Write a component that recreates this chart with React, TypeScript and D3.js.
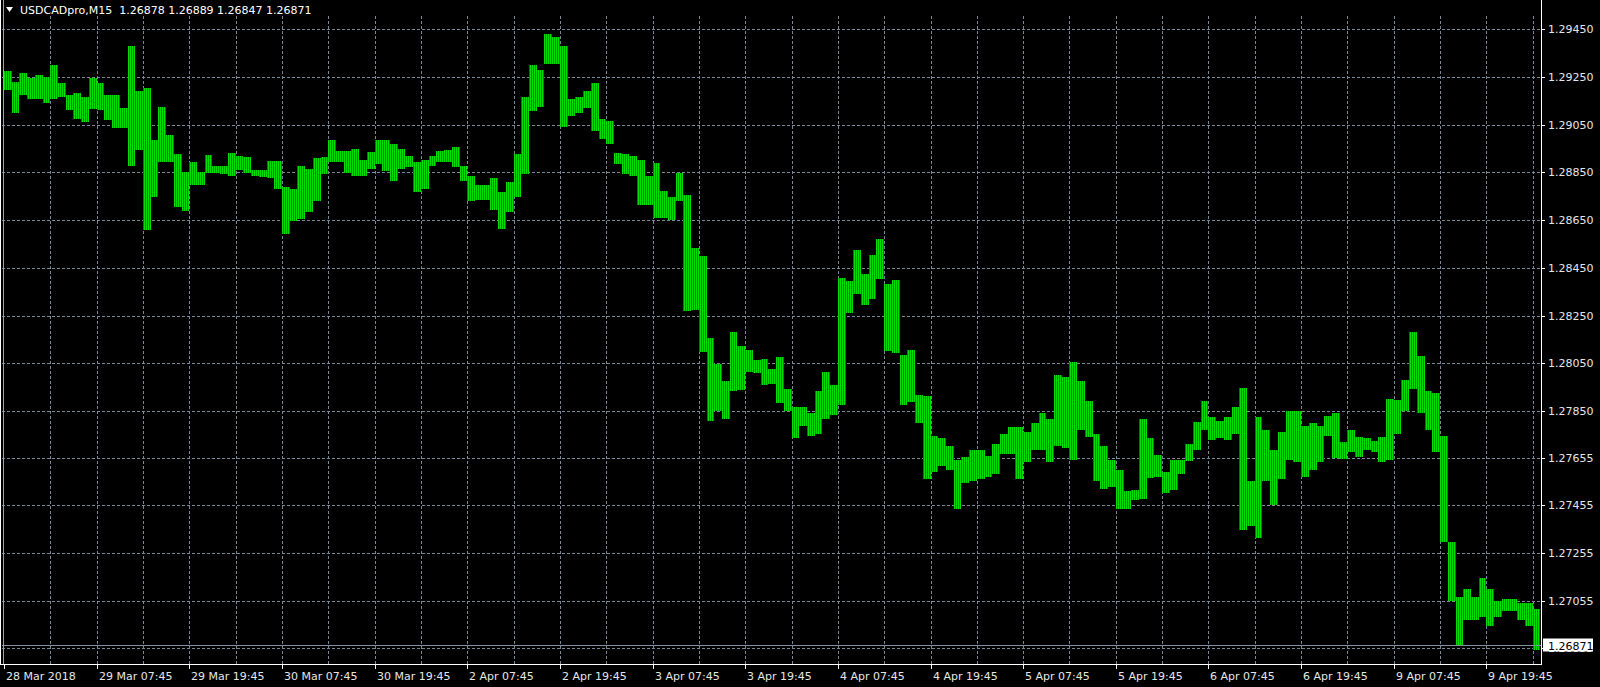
import React from 'react';
import * as d3 from 'd3';

// hourly high / low (4 bars per entry)
const highs = [
  1.29275, 1.29231, 1.29265, 1.29245, 1.29258, 1.29248,
  1.29299, 1.29227, 1.29176, 1.29185, 1.29168, 1.29245,
  1.29227, 1.29176, 1.29173, 1.29121, 1.29378, 1.29193,
  1.29202, 1.28988, 1.29125, 1.29005, 1.28928, 1.28851,
  1.28894, 1.28851, 1.28923, 1.28876, 1.28876, 1.28933,
  1.28919, 1.28916, 1.28859, 1.28859, 1.28899, 1.28899,
  1.28791, 1.28782, 1.28876, 1.28864, 1.28911, 1.28916,
  1.28984, 1.2894, 1.2894, 1.2895, 1.28902, 1.28936,
  1.28988, 1.28988, 1.28971, 1.2895, 1.28919, 1.28894,
  1.28902, 1.28919, 1.2894, 1.28945, 1.28957, 1.28876,
  1.28834, 1.28799, 1.28799, 1.28825, 1.28769, 1.28808,
  1.28928, 1.29168, 1.29299, 1.29279, 1.29429, 1.29419,
  1.29381, 1.29159, 1.29168, 1.2919, 1.29224, 1.29073,
  1.29065, 1.28933, 1.28928, 1.28919, 1.28902, 1.28834,
  1.28888, 1.28774, 1.28748, 1.28847, 1.28757, 1.28534,
  1.285, 1.28157, 1.28049, 1.27974, 1.28183, 1.28123,
  1.28106, 1.28063, 1.28066, 1.28025, 1.28077, 1.27943,
  1.27866, 1.27866, 1.27843, 1.27935, 1.28015, 1.2796,
  1.28406, 1.28397, 1.28525, 1.28423, 1.28503, 1.28573,
  1.28384, 1.28401, 1.28084, 1.28106, 1.27918, 1.27912,
  1.27747, 1.27738, 1.27704, 1.27644, 1.27656, 1.27687,
  1.27687, 1.27661, 1.27712, 1.27755, 1.27781, 1.27781,
  1.27764, 1.27798, 1.27841, 1.27815, 1.28003, 1.27994,
  1.28054, 1.27974, 1.27892, 1.27752, 1.27704, 1.27644,
  1.27601, 1.27515, 1.27519, 1.27815, 1.27738, 1.27666,
  1.27593, 1.27644, 1.27644, 1.27712, 1.27803, 1.27892,
  1.27824, 1.2781, 1.27827, 1.27866, 1.27947, 1.27558,
  1.27827, 1.27772, 1.27687, 1.27764, 1.27849, 1.27849,
  1.27789, 1.27798, 1.27789, 1.27831, 1.27843, 1.27721,
  1.27772, 1.27741, 1.27738, 1.27724, 1.27741, 1.279,
  1.27895, 1.27978, 1.2818, 1.2808, 1.27935, 1.27926,
  1.27747, 1.27302, 1.2707, 1.27105, 1.2707, 1.27152,
  1.27105, 1.27055, 1.27061, 1.27061, 1.27044, 1.27044,
  1.27019,
];

const lows = [
  1.29197, 1.29099, 1.29176, 1.29159, 1.29159, 1.29142,
  1.29159, 1.29168, 1.29111, 1.29073, 1.2906, 1.29116,
  1.29111, 1.2907, 1.29036, 1.29036, 1.28876, 1.28945,
  1.28608, 1.28748, 1.28894, 1.28894, 1.28705, 1.28688,
  1.28799, 1.28796, 1.28847, 1.28847, 1.28842, 1.28837,
  1.28859, 1.28847, 1.28837, 1.2883, 1.28825, 1.28782,
  1.28594, 1.28645, 1.28654, 1.28683, 1.28731, 1.28842,
  1.28894, 1.28894, 1.28847, 1.28834, 1.28837, 1.28864,
  1.28885, 1.28854, 1.28816, 1.28864, 1.28871, 1.28769,
  1.28779, 1.28876, 1.28894, 1.28894, 1.28871, 1.28813,
  1.28731, 1.28735, 1.28735, 1.28693, 1.28611, 1.28683,
  1.28748, 1.28842, 1.29108, 1.29125, 1.29304, 1.29304,
  1.29039, 1.29087, 1.29099, 1.29121, 1.29025, 1.28991,
  1.28971, 1.28885, 1.28842, 1.28837, 1.28714, 1.28714,
  1.28659, 1.28659, 1.28649, 1.28731, 1.28269, 1.28272,
  1.28098, 1.27807, 1.27849, 1.27815, 1.27935, 1.2794,
  1.28012, 1.28008, 1.27957, 1.27964, 1.27883, 1.27849,
  1.27738, 1.27789, 1.27746, 1.27755, 1.27815, 1.27832,
  1.27875, 1.28262, 1.2834, 1.28295, 1.2832, 1.28402,
  1.28101, 1.28093, 1.27875, 1.27889, 1.27798, 1.27567,
  1.27593, 1.27618, 1.27601, 1.27438, 1.27549, 1.27558,
  1.27567, 1.27575, 1.27584, 1.2767, 1.2767, 1.27567,
  1.27635, 1.27687, 1.27687, 1.27635, 1.27704, 1.27695,
  1.27644, 1.27772, 1.27741, 1.27558, 1.27524, 1.27532,
  1.27438, 1.27438, 1.27478, 1.27481, 1.2757, 1.27575,
  1.27507, 1.27519, 1.27584, 1.27639, 1.27687, 1.27772,
  1.2773, 1.27735, 1.2773, 1.27755, 1.27353, 1.2737,
  1.27319, 1.27558, 1.27455, 1.27567, 1.27644, 1.27635,
  1.27575, 1.27601, 1.27635, 1.27746, 1.27652, 1.27649,
  1.27678, 1.27656, 1.27687, 1.27678, 1.27635, 1.27644,
  1.27755, 1.27849, 1.27943, 1.2784, 1.27772, 1.27678,
  1.27302, 1.27053, 1.26865, 1.26976, 1.26976, 1.26985,
  1.2695, 1.26985, 1.2701, 1.2701, 1.26976, 1.2695,
  1.26847,
];

const priceLabels = [
  '1.29450', '1.29250', '1.29050', '1.28850', '1.28650', '1.28450', '1.28250',
  '1.28050', '1.27850', '1.27655', '1.27455', '1.27255', '1.27055', '1.26855',
];

const timeLabels = [
  '28 Mar 2018', '29 Mar 07:45', '29 Mar 19:45', '30 Mar 07:45', '30 Mar 19:45',
  '2 Apr 07:45', '2 Apr 19:45', '3 Apr 07:45', '3 Apr 19:45', '4 Apr 07:45',
  '4 Apr 19:45', '5 Apr 07:45', '5 Apr 19:45', '6 Apr 07:45', '6 Apr 19:45',
  '9 Apr 07:45', '9 Apr 19:45',
];

const symbol = 'USDCADpro,M15';
const ohlc = ['1.26878', '1.26889', '1.26847', '1.26871'];
const lastPrice = 1.26871;

const W = 1600;
const H = 687;
const plotRight = 1541;
const plotBottom = 664;
const gridColor = '#778899';
const font = "'DejaVu Sans', Verdana, sans-serif";

export default function App() {
  // x in M15 bar index, 48 bars per time label
  const x = d3.scaleLinear().domain([0, 48]).range([4, 96.65]);
  const y = d3.scaleLinear().domain([1.26855, 1.2945]).range([648.4, 29.3]);

  const vGrid = d3.range(1, 34).map((n) => x(n * 24));
  const lastY = Math.round(y(lastPrice)) + 0.5;

  return (
    <svg
      width={W}
      height={H}
      style={{ position: 'fixed', left: 0, top: 0, background: '#000' }}
      fontFamily={font}
    >
      <defs>
        <pattern id="mt4bars" width={2} height={4} patternUnits="userSpaceOnUse">
          <rect x={0} y={0} width={1} height={4} fill="#00e000" />
          <rect x={1} y={0} width={1} height={4} fill="#007a00" />
        </pattern>
      </defs>
      <rect width={W} height={H} fill="#000" />

      {/* grid */}
      <g stroke={gridColor} strokeWidth={1} strokeDasharray="3,2" shapeRendering="crispEdges">
        {priceLabels.map((l) => (
          <line key={l} x1={2} x2={plotRight} y1={Math.round(y(+l)) + 0.5} y2={Math.round(y(+l)) + 0.5} />
        ))}
        {vGrid.map((vx, i) => (
          <line key={i} x1={Math.round(vx) + 0.5} x2={Math.round(vx) + 0.5} y1={16} y2={plotBottom} />
        ))}
      </g>

      {/* bars */}
      <g shapeRendering="crispEdges">
        {highs.map((h, i) => {
          const x0 = x(i * 4);
          const x1 = x(i * 4 + 4);
          const top = y(h);
          const bot = y(lows[i]);
          return (
            <rect
              key={i}
              x={x0}
              width={x1 - x0}
              y={top}
              height={Math.max(1, bot - top)}
              fill="url(#mt4bars)"
            />
          );
        })}
      </g>

      {/* last price line */}
      <line x1={2} x2={plotRight} y1={lastY} y2={lastY} stroke="#8090a0" shapeRendering="crispEdges" />

      {/* frame */}
      <g stroke="#fff" strokeWidth={1} shapeRendering="crispEdges">
        <line x1={0.5} x2={0.5} y1={0} y2={plotBottom} />
        <line x1={plotRight + 0.5} x2={plotRight + 0.5} y1={0} y2={plotBottom + 0.5} />
        <line x1={0} x2={plotRight} y1={plotBottom + 0.5} y2={plotBottom + 0.5} />
      </g>
      <line x1={3.5} x2={3.5} y1={0} y2={plotBottom} stroke="#9aa4b0" shapeRendering="crispEdges" />

      {/* price axis */}
      <g fontSize={11} fill="#e6e6e6">
        {priceLabels.map((l) => (
          <g key={l}>
            <line
              x1={plotRight}
              x2={plotRight + 4}
              y1={Math.round(y(+l)) + 0.5}
              y2={Math.round(y(+l)) + 0.5}
              stroke="#fff"
              shapeRendering="crispEdges"
            />
            <text x={1548} y={y(+l) + 4}>{l}</text>
          </g>
        ))}
      </g>
      <rect x={1543} y={lastY - 7} width={50} height={13} fill="#fff" />
      <text x={1548} y={lastY + 4} fontSize={11} fill="#000">
        {lastPrice.toFixed(5)}
      </text>

      {/* time axis */}
      <g fontSize={11} fill="#e6e6e6">
        {timeLabels.map((t, i) => {
          const tx = Math.round(x(i * 48)) + 0.5;
          return (
            <g key={t}>
              <line x1={tx} x2={tx} y1={plotBottom} y2={plotBottom + 5} stroke="#fff" shapeRendering="crispEdges" />
              <text x={tx + 1.5} y={680}>{t}</text>
            </g>
          );
        })}
      </g>

      {/* title */}
      <path d="M6,7 L13,7 L9.5,12 Z" fill="#fff" />
      <text x={20} y={14} fontSize={11} fill="#fff" xmlSpace="preserve">
        {`${symbol}  ${ohlc.join(' ')}`}
      </text>
    </svg>
  );
}
